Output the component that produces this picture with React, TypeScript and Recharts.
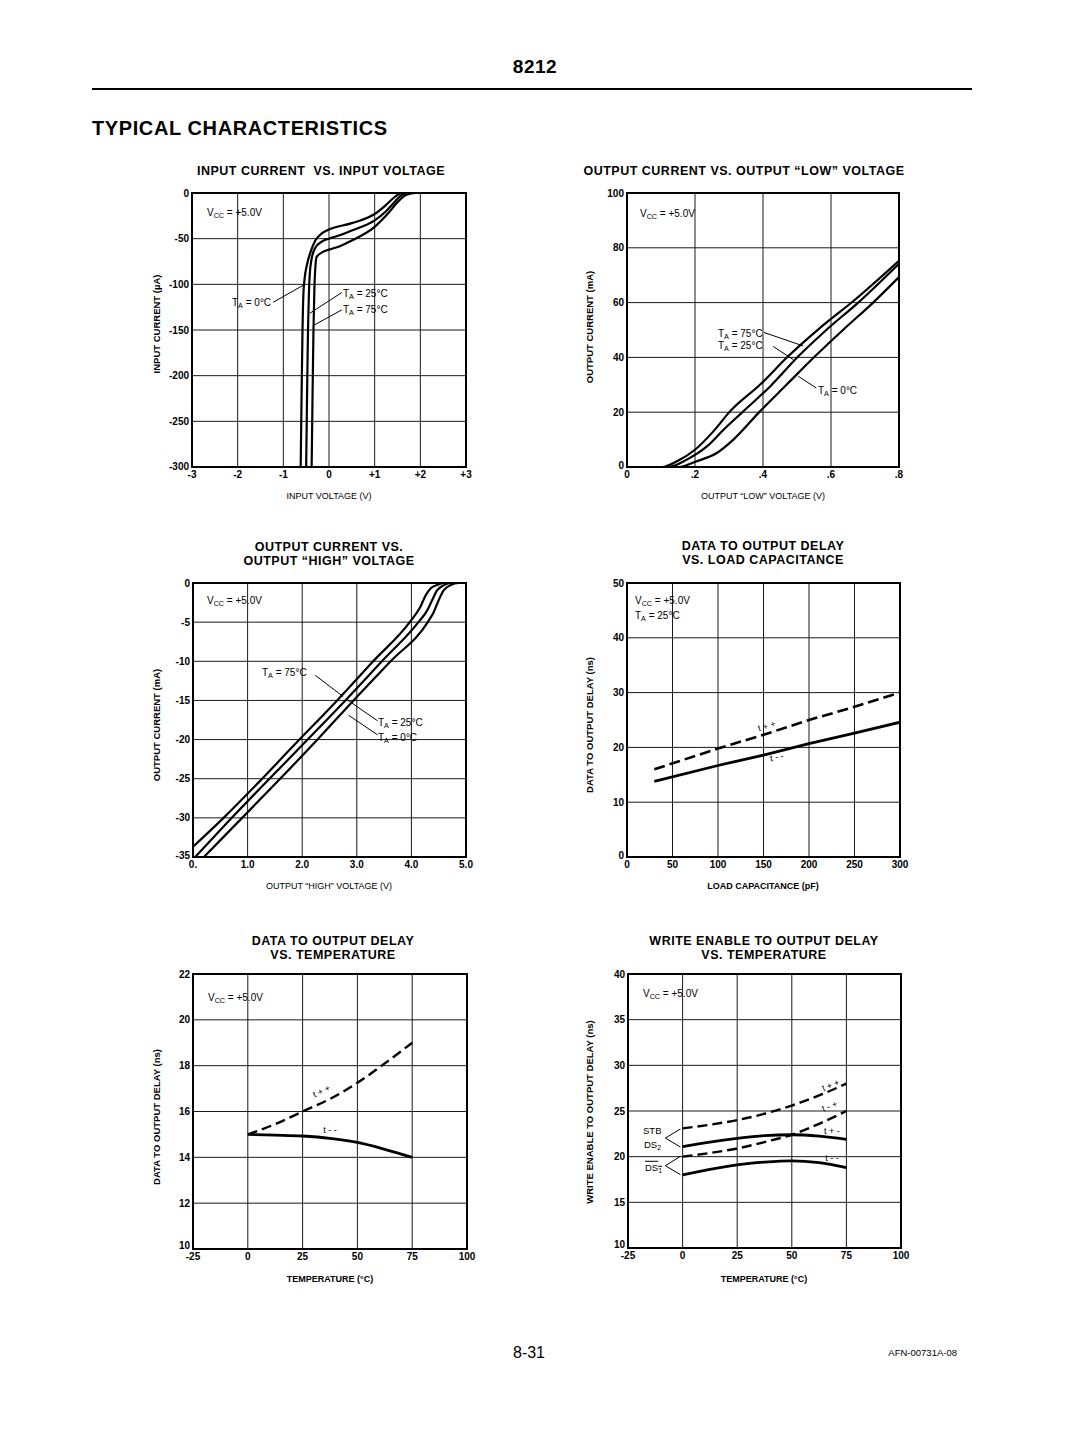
import React from 'react';
import { LineChart, Line, XAxis, YAxis, CartesianGrid, ReferenceArea, ReferenceLine } from 'recharts';

const FONT = '"Liberation Sans", Arial, Helvetica, sans-serif';

type Pt = { x: number; y: number };

// ---------- Chart 1: Input current vs input voltage ----------
const inputVoltTicks = [-3, -2, -1, 0, 1, 2, 3];
const inputVoltLabels = ['-3', '-2', '-1', '0', '+1', '+2', '+3'];
const inputCurrTicks = [-300, -250, -200, -150, -100, -50, 0];
const inputT0: Pt[] = [
  { x: -0.62, y: -300 }, { x: -0.6, y: -220 }, { x: -0.58, y: -150 }, { x: -0.56, y: -110 },
  { x: -0.53, y: -92 }, { x: -0.48, y: -78 }, { x: -0.4, y: -64 }, { x: -0.3, y: -52 },
  { x: -0.15, y: -44 }, { x: 0, y: -40 }, { x: 0.5, y: -33 }, { x: 1.0, y: -23 },
  { x: 1.25, y: -13 }, { x: 1.45, y: -4 }, { x: 1.6, y: 0 }, { x: 2.0, y: 0 },
];
const inputT25: Pt[] = [
  { x: -0.5, y: -300 }, { x: -0.48, y: -220 }, { x: -0.46, y: -150 }, { x: -0.44, y: -110 },
  { x: -0.42, y: -88 }, { x: -0.38, y: -72 }, { x: -0.3, y: -60 }, { x: -0.15, y: -53 },
  { x: 0, y: -50 }, { x: 0.25, y: -46 }, { x: 0.5, y: -41 }, { x: 1.0, y: -30 },
  { x: 1.25, y: -20 }, { x: 1.45, y: -9 }, { x: 1.6, y: -2 }, { x: 1.75, y: 0 }, { x: 2.0, y: 0 },
];
const inputT75: Pt[] = [
  { x: -0.38, y: -300 }, { x: -0.36, y: -220 }, { x: -0.34, y: -150 }, { x: -0.32, y: -105 },
  { x: -0.3, y: -82 }, { x: -0.27, y: -70 }, { x: -0.15, y: -65 }, { x: 0, y: -62 },
  { x: 0.25, y: -58 }, { x: 0.5, y: -52 }, { x: 1.0, y: -37 }, { x: 1.3, y: -22 },
  { x: 1.5, y: -10 }, { x: 1.7, y: -2 }, { x: 1.9, y: 0 }, { x: 2.0, y: 0 },
];

// ---------- Chart 2: Output current vs output LOW voltage ----------
const lowVoltTicks = [0, 0.2, 0.4, 0.6, 0.8];
const lowVoltLabels = ['0', '.2', '.4', '.6', '.8'];
const lowCurrTicks = [0, 20, 40, 60, 80, 100];
const lowT75: Pt[] = [
  { x: 0.1, y: 0 }, { x: 0.103, y: 0 }, { x: 0.147, y: 2.1 }, { x: 0.2, y: 6.3 }, { x: 0.254, y: 13.0 },
  { x: 0.303, y: 20.3 }, { x: 0.391, y: 30.0 }, { x: 0.474, y: 40.4 }, { x: 0.567, y: 50.7 },
  { x: 0.665, y: 60.5 }, { x: 0.8, y: 75.3 },
];
const lowT25: Pt[] = [
  { x: 0.1, y: 0 }, { x: 0.122, y: 0 }, { x: 0.176, y: 2.7 }, { x: 0.235, y: 7.5 }, { x: 0.284, y: 13.6 },
  { x: 0.342, y: 20.3 }, { x: 0.421, y: 29.4 }, { x: 0.504, y: 40.4 }, { x: 0.587, y: 50.1 },
  { x: 0.68, y: 60 }, { x: 0.8, y: 74.2 },
];
const lowT0: Pt[] = [
  { x: 0.1, y: 0 }, { x: 0.152, y: 0 }, { x: 0.205, y: 2.1 }, { x: 0.264, y: 5.1 }, { x: 0.313, y: 10 },
  { x: 0.391, y: 20.3 }, { x: 0.469, y: 30 }, { x: 0.553, y: 40.4 }, { x: 0.636, y: 50.1 },
  { x: 0.724, y: 60 }, { x: 0.8, y: 69.3 },
];

// ---------- Chart 3: Output current vs output HIGH voltage ----------
const highVoltTicks = [0, 1, 2, 3, 4, 5];
const highVoltLabels = ['0.', '1.0', '2.0', '3.0', '4.0', '5.0'];
const highCurrTicks = [-35, -30, -25, -20, -15, -10, -5, 0];
const highT75: Pt[] = [
  { x: 0, y: -33.7 }, { x: 0.56, y: -30 }, { x: 1.95, y: -20 }, { x: 2.64, y: -15 }, { x: 3.3, y: -10 },
  { x: 3.97, y: -5 }, { x: 4.16, y: -3.1 }, { x: 4.26, y: -1.6 }, { x: 4.35, y: -0.7 },
  { x: 4.47, y: -0.25 }, { x: 4.59, y: 0 }, { x: 5, y: 0 },
];
const highT25: Pt[] = [
  { x: 0.04, y: -35 }, { x: 0.71, y: -30 }, { x: 2.1, y: -20 }, { x: 2.79, y: -15 }, { x: 3.46, y: -10 },
  { x: 4.13, y: -5 }, { x: 4.29, y: -3.5 }, { x: 4.38, y: -2.2 }, { x: 4.47, y: -0.95 },
  { x: 4.59, y: -0.3 }, { x: 4.74, y: 0 }, { x: 5, y: 0 },
];
const highT0: Pt[] = [
  { x: 0.2, y: -35 }, { x: 0.9, y: -30 }, { x: 2.28, y: -20 }, { x: 2.94, y: -15 }, { x: 3.62, y: -10 },
  { x: 4.3, y: -5 }, { x: 4.41, y: -3.7 }, { x: 4.5, y: -2.2 }, { x: 4.59, y: -0.95 },
  { x: 4.71, y: -0.3 }, { x: 4.87, y: 0 }, { x: 5, y: 0 },
];

// ---------- Chart 4: Data to output delay vs load capacitance ----------
const capTicks = [0, 50, 100, 150, 200, 250, 300];
const capDelayTicks = [0, 10, 20, 30, 40, 50];
const capValues = [30, 100, 150, 200, 250, 300];
const capTpp = [16.0, 19.8, 22.3, 25.0, 27.4, 30.0];
const capTmm = [13.8, 16.7, 18.6, 20.7, 22.6, 24.6];

// ---------- Chart 5: Data to output delay vs temperature ----------
const tempTicks = [-25, 0, 25, 50, 75, 100];
const dataDelayTicks = [10, 12, 14, 16, 18, 20, 22];
const tempValues = [0, 12.5, 25, 37.5, 50, 62.5, 75];
const dataTpp = [15.0, 15.45, 16.0, 16.55, 17.25, 18.1, 19.0];
const dataTmm = [15.0, 14.97, 14.93, 14.83, 14.65, 14.35, 14.0];

// ---------- Chart 6: Write enable to output delay vs temperature ----------
const weDelayTicks = [10, 15, 20, 25, 30, 35, 40];
const weTpp = [23.1, 23.5, 24.0, 24.7, 25.6, 26.7, 28.0];
const weTmp = [20.0, 20.4, 20.9, 21.6, 22.4, 23.6, 25.0];
const weTpm = [21.1, 21.6, 22.0, 22.3, 22.4, 22.25, 21.9];
const weTmm = [18.0, 18.6, 19.1, 19.4, 19.55, 19.35, 18.8];

const toPts = (xs: number[], ys: number[]): Pt[] => xs.map((x, i) => ({ x, y: ys[i] }));

type Series = { name: string; data: Pt[]; dashed?: boolean; width?: number };
type Seg = [Pt, Pt];

type PanelProps = {
  L: number; T: number; W: number; H: number;
  xDomain: [number, number]; yDomain: [number, number];
  xTicks: number[]; yTicks: number[];
  xLabels?: string[]; yLabels?: string[];
  series: Series[];
  segments?: Seg[];
  curve?: 'monotone' | 'linear';
  dash?: string;
  firstYShift?: number;
};

const TICK_STYLE = { fontSize: 10, fontWeight: 700, fill: '#000', fontFamily: FONT };

function Panel(p: PanelProps) {
  const YW = 40, XH = 22, MT = 8, MR = 12;
  const shift = p.firstYShift || 0;
  const yTick = (props: any) => {
    const idx = props.index;
    const v = props.payload ? props.payload.value : 0;
    const label = p.yLabels ? p.yLabels[idx] : String(v);
    return (
      <text
        x={props.x} y={props.y - (idx === 0 ? shift : 0)} dy="0.355em" textAnchor="end"
        fontSize={TICK_STYLE.fontSize} fontWeight={TICK_STYLE.fontWeight} fill="#000" fontFamily={FONT}
      >
        {label}
      </text>
    );
  };
  return (
    <div style={{ position: 'absolute', left: p.L - YW, top: p.T - MT }}>
      <LineChart width={p.W + YW + MR} height={p.H + MT + XH} margin={{ top: MT, right: MR, bottom: 0, left: 0 }}>
        <CartesianGrid stroke="#1a1a1a" strokeWidth={1} />
        <XAxis
          type="number" dataKey="x" domain={p.xDomain} ticks={p.xTicks} interval={0} allowDataOverflow
          axisLine={false} tickLine={false} tickSize={4} tickMargin={0} height={XH} tick={TICK_STYLE}
          tickFormatter={(v: number, i: number) => (p.xLabels ? p.xLabels[i] : String(v))}
        />
        <YAxis
          type="number" dataKey="y" domain={p.yDomain} ticks={p.yTicks} interval={0} allowDataOverflow
          axisLine={false} tickLine={false} tickSize={2} tickMargin={1} width={YW} tick={yTick}
        />
        {(p.segments || []).map((s, i) => (
          <ReferenceLine key={'seg' + i} segment={[s[0], s[1]]} stroke="#000" strokeWidth={1} ifOverflow="visible" />
        ))}
        {p.series.map((s) => (
          <Line
            key={s.name} name={s.name} data={s.data} dataKey="y" type={p.curve || 'monotone'}
            stroke="#000" strokeWidth={s.width || 2.2}
            strokeDasharray={s.dashed ? p.dash || '10 5' : undefined}
            dot={false} activeDot={false} isAnimationActive={false}
          />
        ))}
        <ReferenceArea
          x1={p.xDomain[0]} x2={p.xDomain[1]} y1={p.yDomain[0]} y2={p.yDomain[1]}
          fill="none" fillOpacity={0} stroke="#000" strokeWidth={2} ifOverflow="visible"
        />
      </LineChart>
    </div>
  );
}

type TxtProps = {
  x: number; y: number; size?: number; bold?: boolean; anchor?: 'start' | 'middle' | 'end';
  rotate?: number; spacing?: number; lh?: number; children: React.ReactNode;
};
function Txt({ x, y, size = 10, bold = false, anchor = 'start', rotate = 0, spacing = 0, lh = 1.1, children }: TxtProps) {
  const tx = anchor === 'middle' ? '-50%' : anchor === 'end' ? '-100%' : '0';
  return (
    <div
      style={{
        position: 'absolute', left: x, top: y,
        transform: `translate(${tx},-50%) rotate(${rotate}deg)`,
        fontSize: size, fontWeight: bold ? 700 : 400, fontFamily: FONT, whiteSpace: 'nowrap',
        lineHeight: lh, letterSpacing: spacing, color: '#000', textAlign: 'center',
      }}
    >
      {children}
    </div>
  );
}

const Sub = ({ c }: { c: string }) => (
  <span style={{ fontSize: '0.72em', position: 'relative', top: '0.3em' }}>{c}</span>
);
const Vcc = () => (<>V<Sub c="CC" /> = +5.0V</>);
const Ta = ({ t }: { t: string }) => (<>T<Sub c="A" /> = {t}°C</>);

const TITLE = 12.5;
const TSP = 0.5;
const AX = 9;

export default function App() {
  return (
    <div style={{ position: 'absolute', left: 0, top: 0, width: 1080, height: 1434, background: '#fff', overflow: 'hidden' }}>
      {/* Header */}
      <Txt x={535} y={67} size={19} bold anchor="middle" spacing={0.5}>8212</Txt>
      <div style={{ position: 'absolute', left: 92, top: 88, width: 880, height: 2, background: '#000' }} />
      <Txt x={92} y={128} size={20} bold spacing={0.6}>TYPICAL CHARACTERISTICS</Txt>

      {/* Chart 1 */}
      <Txt x={321} y={172} size={TITLE} bold anchor="middle" spacing={TSP}>INPUT CURRENT&nbsp; VS. INPUT VOLTAGE</Txt>
      <Panel
        L={192} T={193} W={274} H={274}
        xDomain={[-3, 3]} yDomain={[-300, 0]} xTicks={inputVoltTicks} yTicks={inputCurrTicks} xLabels={inputVoltLabels}
        firstYShift={1}
        series={[
          { name: 't0', data: inputT0 },
          { name: 't25', data: inputT25 },
          { name: 't75', data: inputT75 },
        ]}
        segments={[
          [{ x: -1.22, y: -119.6 }, { x: -0.55, y: -100.6 }],
          [{ x: 0.28, y: -109 }, { x: -0.42, y: -131.7 }],
          [{ x: 0.28, y: -128 }, { x: -0.34, y: -145 }],
        ]}
      />
      <Txt x={207} y={212}><Vcc /></Txt>
      <Txt x={232} y={302}><Ta t="0" /></Txt>
      <Txt x={343} y={293}><Ta t="25" /></Txt>
      <Txt x={343} y={309}><Ta t="75" /></Txt>
      <Txt x={157} y={324} size={9.5} bold anchor="middle" rotate={-90}>INPUT CURRENT (µA)</Txt>
      <Txt x={329} y={497} size={AX} anchor="middle">INPUT VOLTAGE (V)</Txt>

      {/* Chart 2 */}
      <Txt x={744} y={172} size={TITLE} bold anchor="middle" spacing={TSP}>OUTPUT CURRENT VS. OUTPUT “LOW” VOLTAGE</Txt>
      <Panel
        L={627} T={193} W={272} H={274}
        xDomain={[0, 0.8]} yDomain={[0, 100]} xTicks={lowVoltTicks} yTicks={lowCurrTicks} xLabels={lowVoltLabels}
        firstYShift={2}
        series={[
          { name: 'l75', data: lowT75 },
          { name: 'l25', data: lowT25 },
          { name: 'l0', data: lowT0 },
        ]}
        segments={[
          [{ x: 0.403, y: 49.1 }, { x: 0.518, y: 44.2 }],
          [{ x: 0.43, y: 44 }, { x: 0.489, y: 39.2 }],
          [{ x: 0.557, y: 28.8 }, { x: 0.504, y: 33.1 }],
        ]}
      />
      <Txt x={640} y={213}><Vcc /></Txt>
      <Txt x={718} y={333}><Ta t="75" /></Txt>
      <Txt x={718} y={345}><Ta t="25" /></Txt>
      <Txt x={818} y={390}><Ta t="0" /></Txt>
      <Txt x={590} y={327} size={9.5} bold anchor="middle" rotate={-90}>OUTPUT CURRENT (mA)</Txt>
      <Txt x={763} y={497} size={AX} anchor="middle">OUTPUT “LOW” VOLTAGE (V)</Txt>

      {/* Chart 3 */}
      <Txt x={329} y={555} size={TITLE} bold anchor="middle" spacing={TSP} lh={1.1}>OUTPUT CURRENT VS.<br />OUTPUT “HIGH” VOLTAGE</Txt>
      <Panel
        L={193} T={583} W={273} H={274}
        xDomain={[0, 5]} yDomain={[-35, 0]} xTicks={highVoltTicks} yTicks={highCurrTicks} xLabels={highVoltLabels}
        firstYShift={2}
        series={[
          { name: 'h75', data: highT75 },
          { name: 'h25', data: highT25 },
          { name: 'h0', data: highT0 },
        ]}
        segments={[
          [{ x: 2.24, y: -11.8 }, { x: 2.75, y: -14.5 }],
          [{ x: 3.38, y: -17.6 }, { x: 2.82, y: -14.9 }],
          [{ x: 3.38, y: -19.4 }, { x: 2.85, y: -16.9 }],
        ]}
      />
      <Txt x={207} y={600}><Vcc /></Txt>
      <Txt x={262} y={672}><Ta t="75" /></Txt>
      <Txt x={378} y={722}><Ta t="25" /></Txt>
      <Txt x={378} y={737}><Ta t="0" /></Txt>
      <Txt x={157} y={725} size={9.5} bold anchor="middle" rotate={-90}>OUTPUT CURRENT (mA)</Txt>
      <Txt x={329} y={887} size={AX} anchor="middle">OUTPUT “HIGH” VOLTAGE (V)</Txt>

      {/* Chart 4 */}
      <Txt x={763} y={554} size={TITLE} bold anchor="middle" spacing={TSP} lh={1.1}>DATA TO OUTPUT DELAY<br />VS. LOAD CAPACITANCE</Txt>
      <Panel
        L={627} T={583} W={273} H={274}
        xDomain={[0, 300]} yDomain={[0, 50]} xTicks={capTicks} yTicks={capDelayTicks} curve="linear" dash="11 5"
        firstYShift={2}
        series={[
          { name: 'cpp', data: toPts(capValues, capTpp), dashed: true, width: 2.6 },
          { name: 'cmm', data: toPts(capValues, capTmm), width: 2.8 },
        ]}
      />
      <Txt x={635} y={600}><Vcc /></Txt>
      <Txt x={635} y={615}><Ta t="25" /></Txt>
      <Txt x={767} y={727} size={9} anchor="middle" rotate={-17}>t + +</Txt>
      <Txt x={777} y={758} size={9} anchor="middle" rotate={-12}>t - -</Txt>
      <Txt x={590} y={725} size={9.5} bold anchor="middle" rotate={-90}>DATA TO OUTPUT DELAY (ns)</Txt>
      <Txt x={763} y={887} size={AX} bold anchor="middle">LOAD CAPACITANCE (pF)</Txt>

      {/* Chart 5 */}
      <Txt x={333} y={949} size={TITLE} bold anchor="middle" spacing={TSP} lh={1.1}>DATA TO OUTPUT DELAY<br />VS. TEMPERATURE</Txt>
      <Panel
        L={193} T={974} W={274} H={275}
        xDomain={[-25, 100]} yDomain={[10, 22]} xTicks={tempTicks} yTicks={dataDelayTicks} dash="10 5"
        firstYShift={4}
        series={[
          { name: 'dpp', data: toPts(tempValues, dataTpp), dashed: true, width: 2.4 },
          { name: 'dmm', data: toPts(tempValues, dataTmm), width: 2.8 },
        ]}
      />
      <Txt x={208} y={997}><Vcc /></Txt>
      <Txt x={322} y={1092} size={9} anchor="middle" rotate={-25}>t + +</Txt>
      <Txt x={330} y={1131} size={9} anchor="middle">t - -</Txt>
      <Txt x={157} y={1117} size={9.5} bold anchor="middle" rotate={-90}>DATA TO OUTPUT DELAY (ns)</Txt>
      <Txt x={330} y={1280} size={AX} bold anchor="middle">TEMPERATURE (°C)</Txt>

      {/* Chart 6 */}
      <Txt x={764} y={949} size={TITLE} bold anchor="middle" spacing={TSP} lh={1.1}>WRITE ENABLE TO OUTPUT DELAY<br />VS. TEMPERATURE</Txt>
      <Panel
        L={628} T={974} W={273} H={274}
        xDomain={[-25, 100]} yDomain={[10, 40]} xTicks={tempTicks} yTicks={weDelayTicks} dash="10 5"
        firstYShift={4}
        series={[
          { name: 'wpp', data: toPts(tempValues, weTpp), dashed: true, width: 2.4 },
          { name: 'wmp', data: toPts(tempValues, weTmp), dashed: true, width: 2.4 },
          { name: 'wpm', data: toPts(tempValues, weTpm), width: 2.8 },
          { name: 'wmm', data: toPts(tempValues, weTmm), width: 2.8 },
        ]}
        segments={[
          [{ x: -7.9, y: 22.04 }, { x: -1, y: 23.03 }],
          [{ x: -7.9, y: 22.04 }, { x: -1, y: 21.06 }],
          [{ x: -7.9, y: 19.01 }, { x: -1, y: 20.04 }],
          [{ x: -7.9, y: 19.01 }, { x: -1, y: 18.03 }],
        ]}
      />
      <Txt x={643} y={993}><Vcc /></Txt>
      <Txt x={831} y={1086} size={9} anchor="middle" rotate={-22}>t + +</Txt>
      <Txt x={830} y={1107} size={9} anchor="middle" rotate={-20}>t - +</Txt>
      <Txt x={832} y={1132} size={9} anchor="middle">t + -</Txt>
      <Txt x={832} y={1159} size={9} anchor="middle">t - -</Txt>
      <Txt x={643} y={1131} size={9.5}>STB</Txt>
      <Txt x={644} y={1145} size={9.5}>DS<Sub c="2" /></Txt>
      <Txt x={645} y={1168} size={9.5}><span style={{ textDecoration: 'overline' }}>DS<Sub c="1" /></span></Txt>
      <Txt x={590} y={1112} size={9.5} bold anchor="middle" rotate={-90}>WRITE ENABLE TO OUTPUT DELAY (ns)</Txt>
      <Txt x={764} y={1280} size={AX} bold anchor="middle">TEMPERATURE (°C)</Txt>

      {/* Footer */}
      <Txt x={529} y={1353} size={16} anchor="middle">8-31</Txt>
      <Txt x={957} y={1353} size={9.5} anchor="end">AFN-00731A-08</Txt>
    </div>
  );
}
